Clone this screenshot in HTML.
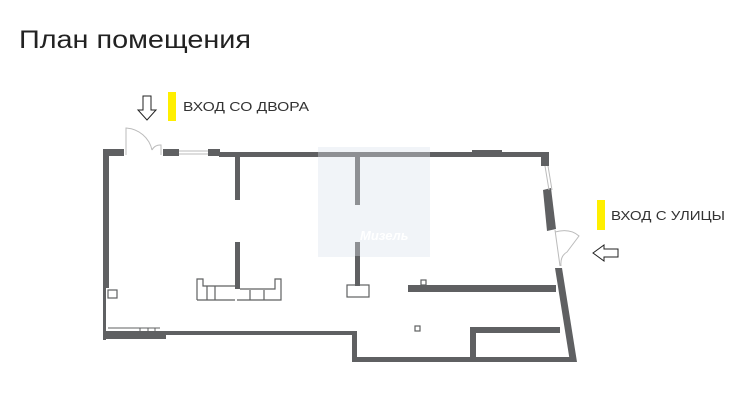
<!DOCTYPE html>
<html><head><meta charset="utf-8"><style>
html,body{margin:0;padding:0;background:#fff;width:749px;height:403px;overflow:hidden}
</style></head><body>
<svg width="749" height="403" viewBox="0 0 749 403" xmlns="http://www.w3.org/2000/svg" font-family="Liberation Sans, sans-serif">
<rect width="749" height="403" fill="#fff"/>
<text x="19" y="48" font-size="25" fill="#222" textLength="232" lengthAdjust="spacingAndGlyphs">План помещения</text>
<!-- watermark -->
<rect x="318" y="147" width="112" height="110" fill="#f1f4f8"/>
<text x="360" y="240" font-size="13" font-weight="bold" font-style="italic" fill="#fff">Мизель</text>
<g fill="#5f6062">
<rect x="103" y="149" width="21" height="7"/>
<rect x="163" y="149" width="16" height="7"/>
<rect x="208" y="149" width="12" height="7"/>
<rect x="219" y="152" width="99" height="5"/>
<rect x="318" y="152" width="112" height="5" fill="#8e9094"/>
<rect x="430" y="152" width="116" height="5"/>
<rect x="472" y="150" width="30" height="7"/>
<rect x="541" y="152" width="8" height="14"/>
<rect x="103" y="149" width="6" height="139"/>
<rect x="103" y="288" width="3" height="52"/>
<rect x="103" y="331" width="63" height="8"/>
<rect x="103" y="331" width="253" height="4"/>
<rect x="352" y="331" width="5" height="31"/>
<rect x="352" y="357" width="224" height="5"/>
<rect x="235" y="156" width="5" height="44"/>
<rect x="235" y="242" width="5" height="47"/>
<rect x="355" y="156" width="5" height="49" fill="#8e9094"/>
<rect x="355" y="242" width="5" height="14" fill="#8e9094"/>
<rect x="355" y="256" width="5" height="30"/>
<rect x="408" y="285" width="148" height="7"/>
<rect x="470" y="327" width="6" height="34"/>
<rect x="470" y="327" width="90" height="6"/>
<polygon points="543,190 551,188 556,229 547,231"/>
<polygon points="555,268 562,268 577,362 570,362"/>
</g>
<g fill="none" stroke="#5f6062" stroke-width="1.2">
<rect x="108" y="290" width="9" height="8"/>
<rect x="347" y="285" width="22" height="12"/>
<rect x="421" y="280" width="5" height="5"/>
<rect x="415" y="326" width="5" height="5"/>
<path d="M197,300 V279 H203 V286 H235 M207,286 V300 M215,286 V300 M197,300 H235 M237,300 H281 V279 H275 V289 H240 M250,290 V300 M264,290 V300"/>
<path d="M108,328 H160 M140,328 V334 M148,328 V334 M155,328 V334" stroke-width="1"/>
</g>
<g stroke="#bbb" stroke-width="1" fill="none">
<line x1="179" y1="151" x2="208" y2="151"/><line x1="179" y1="154" x2="208" y2="154"/>
<line x1="545" y1="166" x2="549" y2="190"/><line x1="548" y1="166" x2="552" y2="190"/>
<path d="M126,155 V128 A28,28 0 0,1 152,150 M152,150 A9,9 0 0,1 161,145 V155"/>
<path d="M555,230 L560,266 M555,232 Q570,228 579,236 L567,252 Q560,256 561,266"/>
</g>
<rect x="168" y="92" width="8" height="29" fill="#ffef00"/>
<text x="183" y="111" font-size="12.5" fill="#333" textLength="126" lengthAdjust="spacingAndGlyphs">ВХОД СО ДВОРА</text>
<rect x="597" y="200" width="8" height="30" fill="#ffef00"/>
<text x="611" y="220" font-size="12.5" fill="#333" textLength="114" lengthAdjust="spacingAndGlyphs">ВХОД С УЛИЦЫ</text>
<path d="M143,96 H151 V110 H156 L147,120 L138,110 H143 Z" fill="#fff" stroke="#222" stroke-width="1"/>
<path d="M618,249 H604 V245 L593,253 L604,261 V257 H618 Z" fill="#fff" stroke="#222" stroke-width="1"/>
</svg>
</body></html>
